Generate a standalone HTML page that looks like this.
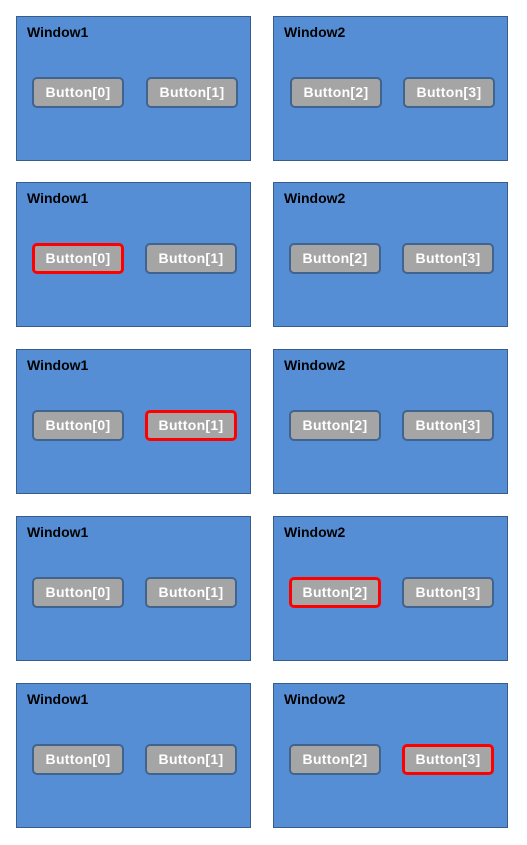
<!DOCTYPE html>
<html><head><meta charset="utf-8"><style>
body{margin:0;width:527px;height:845px;background:#fff;position:relative;font-family:"Liberation Sans",sans-serif;overflow:hidden}
.w{position:absolute;width:233px;height:143px;background:#558ed5;border:1.5px solid #385d8a;box-sizing:content-box}
.t{position:absolute;left:10px;top:7px;font-weight:bold;font-size:14px;color:#000}
.b{position:absolute;top:60px;width:88px;height:27px;background:#a5a5a5;border:2px solid #41648f;border-radius:5px;color:#fff;font-weight:bold;font-size:14px;line-height:27px;text-align:center;box-sizing:content-box;letter-spacing:0.3px}
.b.r{border:3px solid #ff0000;width:86px;height:25px;line-height:25px}
.b1{left:15px}.b2{left:128px}
</style></head><body>
<div class="w" style="left:16px;top:16px"><div class="t">Window1</div><div class="b b1">Button[0]</div><div class="b b2" style="left:129px">Button[1]</div></div>
<div class="w" style="left:273px;top:16px"><div class="t">Window2</div><div class="b b1" style="left:16px">Button[2]</div><div class="b b2" style="left:129px">Button[3]</div></div>

<div class="w" style="left:16px;top:182px"><div class="t">Window1</div><div class="b b1 r">Button[0]</div><div class="b b2">Button[1]</div></div>
<div class="w" style="left:273px;top:182px"><div class="t">Window2</div><div class="b b1">Button[2]</div><div class="b b2">Button[3]</div></div>

<div class="w" style="left:16px;top:349px"><div class="t">Window1</div><div class="b b1">Button[0]</div><div class="b b2 r">Button[1]</div></div>
<div class="w" style="left:273px;top:349px"><div class="t">Window2</div><div class="b b1">Button[2]</div><div class="b b2">Button[3]</div></div>

<div class="w" style="left:16px;top:516px"><div class="t">Window1</div><div class="b b1">Button[0]</div><div class="b b2">Button[1]</div></div>
<div class="w" style="left:273px;top:516px"><div class="t">Window2</div><div class="b b1 r">Button[2]</div><div class="b b2">Button[3]</div></div>

<div class="w" style="left:16px;top:683px"><div class="t">Window1</div><div class="b b1">Button[0]</div><div class="b b2">Button[1]</div></div>
<div class="w" style="left:273px;top:683px"><div class="t">Window2</div><div class="b b1">Button[2]</div><div class="b b2 r">Button[3]</div></div>
</body></html>
